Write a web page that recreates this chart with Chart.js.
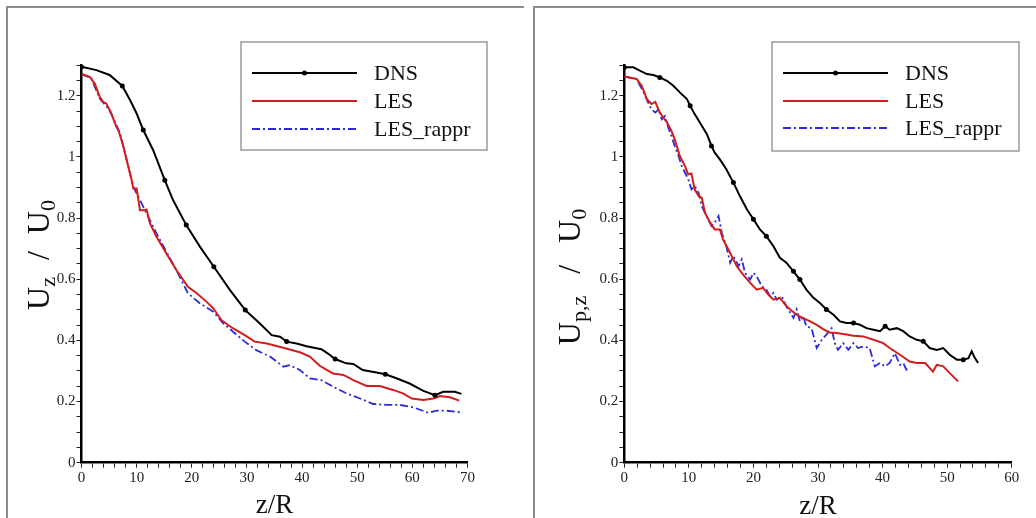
<!DOCTYPE html>
<html>
<head>
<meta charset="utf-8">
<script src="https://cdn.jsdelivr.net/npm/chart.js@4/dist/chart.umd.min.js"></script>
<style>
  body { margin: 0; background: #fff; width: 1036px; height: 518px; overflow: hidden; position: relative; }
  .frame { position: absolute; border-top: 2px solid #8c8c8c; border-left: 2px solid #8c8c8c; }
  canvas { position: absolute; top: 0; }
</style>
</head>
<body>
<div class="frame" style="left:6px;top:6px;width:516px;height:520px"></div>
<div class="frame" style="left:533px;top:6px;width:510px;height:520px"></div>
<canvas id="left" width="526" height="518" style="left:0"></canvas>
<canvas id="right" width="510" height="518" style="left:526px"></canvas>
<script>
// series labels
const seriesNames = ["DNS", "LES", "LES_rappr"];

// left panel: U_z / U_0 against z/R
const zDnsA = [0,2.7,5.1,7.4,8.8,10,11.2,13,15.1,16.6,19,21.5,24,26.9,29.7,32.3,34.5,36,37.2,39,40.8,43.5,44.7,46,48,49.3,51,53.5,55.1,57.1,59.5,62,64.1,65.6,67.7,68.9];
const uDnsA = [1.295,1.284,1.268,1.232,1.186,1.142,1.088,1.022,0.924,0.859,0.777,0.706,0.641,0.565,0.499,0.456,0.417,0.412,0.396,0.390,0.381,0.371,0.357,0.339,0.325,0.323,0.303,0.295,0.289,0.276,0.259,0.235,0.221,0.232,0.232,0.225];
const dnsMarksA = [0,7.4,11.2,15.1,19,24,29.7,37.2,46,55.1,64.1];

const zLesA = [0,1.5,2.4,3.3,3.9,4.5,5.4,6.3,6.8,7.6,8.5,9.1,9.4,10,10.6,11.1,11.8,12.4,13.6,15.4,17.2,19.3,20.9,22.7,23.9,25.4,27.5,29.6,31.4,33.6,36.6,39.6,41.4,43.2,45.6,47.5,49.3,51.7,54.1,56.5,58.3,59.9,62,63.8,65,66.8,68.5];
const uLesA = [1.271,1.262,1.240,1.197,1.180,1.175,1.142,1.099,1.082,1.033,0.968,0.924,0.897,0.897,0.826,0.826,0.828,0.783,0.739,0.684,0.630,0.575,0.554,0.526,0.505,0.466,0.439,0.417,0.396,0.390,0.376,0.361,0.347,0.317,0.292,0.287,0.270,0.251,0.251,0.238,0.227,0.210,0.205,0.210,0.218,0.214,0.203];

const zRapA = [0,1.8,3.3,5.1,7,8.2,9.4,10.9,11.8,13.6,15.4,17.2,19.3,21.5,23.9,25.7,27.5,29.6,31.7,34.2,36.6,37.8,39.6,41.4,43.5,45.6,48,50.5,52.9,55.3,57.7,60.2,62.9,64.4,66.2,68.6];
const uRapA = [1.271,1.257,1.191,1.153,1.077,0.990,0.902,0.848,0.815,0.750,0.690,0.630,0.554,0.521,0.494,0.456,0.428,0.396,0.368,0.347,0.314,0.319,0.303,0.276,0.270,0.249,0.227,0.210,0.192,0.189,0.189,0.181,0.163,0.170,0.170,0.165];

// right panel: U_p,z / U_0 against z/R
const zDnsB = [0,1.4,2.4,3.5,4.5,5.5,6.6,7.6,8.6,9.7,10.2,10.9,12,12.8,13.5,14,14.8,15.8,16.9,17.9,19,20,21,22,23.1,24.1,25.1,26.2,27.2,28.2,29.3,30.3,31.3,32.4,33.4,34.4,35.5,36.5,37.5,38.6,39.6,40.4,41.1,42.2,43.2,44.2,45.3,46.3,47.3,48.4,49.4,50.4,51.5,52.5,53.3,53.8,54.3,54.8];
const uDnsB = [1.293,1.293,1.282,1.271,1.268,1.260,1.249,1.233,1.211,1.189,1.167,1.140,1.102,1.074,1.036,1.014,0.992,0.960,0.916,0.872,0.828,0.796,0.763,0.741,0.708,0.670,0.654,0.626,0.599,0.566,0.539,0.522,0.501,0.484,0.462,0.457,0.457,0.451,0.440,0.435,0.430,0.446,0.435,0.440,0.430,0.413,0.402,0.397,0.375,0.369,0.375,0.353,0.337,0.337,0.342,0.364,0.342,0.326];
const dnsMarksB = [0,5.5,10.2,13.5,16.9,20,22,26.2,27.2,31.3,35.5,40.4,46.3,52.5];

const zLesB = [0,1.9,2.7,3.5,4.2,4.8,5.5,6.6,7.3,7.8,8.6,9.4,9.9,10.4,10.9,11.5,12,12.5,13.3,14,14.8,15.3,16.4,17.4,18.4,19.5,20.5,21.5,22.3,23.1,24.1,24.9,25.7,26.7,27.7,28.8,29.8,30.8,31.8,32.9,34.4,35.5,37,38.6,40.1,41.1,42.7,44.2,45.3,46.6,47.8,48.4,49.4,50.4,51.7];
const uLesB = [1.263,1.255,1.233,1.189,1.173,1.180,1.145,1.113,1.085,1.058,1.003,0.970,0.943,0.946,0.894,0.872,0.867,0.817,0.785,0.763,0.763,0.730,0.686,0.643,0.615,0.588,0.566,0.572,0.550,0.533,0.539,0.517,0.501,0.484,0.473,0.462,0.451,0.437,0.426,0.424,0.419,0.415,0.413,0.402,0.391,0.375,0.353,0.331,0.326,0.326,0.298,0.320,0.315,0.293,0.266];

const zRapB = [0,1.9,3,3.7,4.2,4.8,5.3,5.8,6.3,6.8,7.3,7.8,8.4,8.9,9.4,9.9,10.4,10.9,11.5,12,12.5,13,13.5,14,14.6,15.1,15.8,16.4,16.9,17.7,18.2,18.7,19.5,20,20.5,21.3,22,22.6,23.1,23.6,24.4,25.1,25.7,26.2,26.7,27.2,27.7,28.2,29,29.8,30.6,31.3,32.1,32.6,33.1,33.9,34.7,35.5,36.2,37,38,38.8,39.6,40.4,41.1,41.9,42.7,43.2,43.7,44.2];
const uRapB = [1.263,1.255,1.211,1.178,1.156,1.145,1.156,1.123,1.134,1.096,1.069,1.036,1.003,0.970,0.949,0.927,0.894,0.905,0.883,0.839,0.817,0.796,0.774,0.785,0.807,0.752,0.708,0.654,0.676,0.643,0.665,0.621,0.599,0.621,0.610,0.577,0.566,0.544,0.555,0.533,0.544,0.511,0.490,0.473,0.501,0.462,0.479,0.446,0.440,0.375,0.402,0.419,0.440,0.391,0.369,0.391,0.369,0.391,0.375,0.380,0.375,0.315,0.326,0.315,0.326,0.358,0.320,0.326,0.304,0.309];

// axis ranges
const yMax = 1.3;
const xMaxA = 70;
const xMaxB = 60;

const SERIF = "'Liberation Serif', 'DejaVu Serif', serif";

function pts(xs, ys) {
    return xs.map((x, i) => ({ x: x, y: ys[i] }));
}

//Writes a run of text pieces (with sub-scripts) along the current baseline
function drawRich(ctx, parts, cx, cy) {
    let total = 0;
    parts.forEach(p => {
        ctx.font = p.size + "px " + SERIF;
        p.w = ctx.measureText(p.t).width + (p.gap || 0);
        total += p.w;
    });
    let x = cx - total / 2;
    parts.forEach(p => {
        ctx.font = p.size + "px " + SERIF;
        ctx.fillText(p.t, x + (p.gap || 0) / 2, cy + (p.dy || 0));
        x += p.w;
    });
}

//Draws legend box, axis titles
const decoPlugin = {
    id: "deco",
    afterDraw(chart, args, opts) {
        const ctx = chart.ctx;
        const lg = opts.legend;
        ctx.save();
        ctx.strokeStyle = "#9a9a9a";
        ctx.lineWidth = 1.5;
        ctx.strokeRect(lg.x, lg.y, lg.w, lg.h);
        ctx.textBaseline = "middle";
        chart.data.datasets.forEach((ds, i) => {
            const y = lg.rows[i];
            ctx.beginPath();
            ctx.strokeStyle = ds.borderColor;
            ctx.lineWidth = ds.borderWidth;
            ctx.setLineDash(ds.borderDash || []);
            ctx.moveTo(lg.x0, y);
            ctx.lineTo(lg.x1, y);
            ctx.stroke();
            ctx.setLineDash([]);
            if (i === 0) {
                ctx.beginPath();
                ctx.fillStyle = ds.borderColor;
                ctx.arc((lg.x0 + lg.x1) / 2, y, 2.5, 0, Math.PI * 2);
                ctx.fill();
            }
            ctx.fillStyle = "#111";
            ctx.font = "22px " + SERIF;
            ctx.textAlign = "left";
            ctx.fillText(ds.label, lg.tx, y + 1);
        });

        // x title
        const area = chart.chartArea;
        ctx.textBaseline = "alphabetic";
        ctx.textAlign = "left";
        ctx.fillStyle = "#111";
        drawRich(ctx, [{ t: "z/R", size: 27 }], (area.left + area.right) / 2, opts.xTitleY);

        // y title, rotated
        ctx.translate(opts.yTitle.x, opts.yTitle.y);
        ctx.rotate(-Math.PI / 2);
        drawRich(ctx, opts.yTitle.parts, 0, 0);
        ctx.restore();
    }
};

function makeChart(id, d, cfg) {
    const ticksFont = { family: SERIF, size: 15 };
    new Chart(document.getElementById(id), {
        type: "line",
        data: {
            datasets: [
                {
                    label: seriesNames[0],
                    data: pts(d.zDns, d.uDns),
                    borderColor: "#000",
                    backgroundColor: "#000",
                    borderWidth: 2,
                    pointRadius: c => (c.raw && d.marks.includes(c.raw.x)) ? 2.5 : 0,
                    pointBorderWidth: 0,
                    order: 0,
                },
                {
                    label: seriesNames[1],
                    data: pts(d.zLes, d.uLes),
                    borderColor: "#d41c1c",
                    borderWidth: 2,
                    pointRadius: 0,
                    order: 1,
                },
                {
                    label: seriesNames[2],
                    data: pts(d.zRap, d.uRap),
                    borderColor: "#2b2bde",
                    borderWidth: 1.8,
                    borderDash: [8, 3, 2, 3],
                    pointRadius: 0,
                    order: 2,
                },
            ],
        },
        options: {
            responsive: false,
            animation: false,
            layout: { padding: { left: 0, right: cfg.padRight, top: 65.2, bottom: 0 } },
            plugins: {
                legend: { display: false },
                tooltip: { enabled: false },
                deco: cfg.deco,
            },
            scales: {
                x: {
                    type: "linear",
                    min: 0,
                    max: cfg.xMax,
                    afterFit: s => { s.height = 55.3; },
                    border: { color: "#000", width: 2.5 },
                    grid: { drawOnChartArea: false, tickLength: 5, tickColor: "#222", lineWidth: 1 },
                    ticks: {
                        stepSize: 2,
                        padding: 1,
                        color: "#222",
                        font: ticksFont,
                        maxRotation: 0,
                        autoSkip: false,
                        callback: v => (Math.round(v) % 10 === 0 ? String(Math.round(v)) : ""),
                    },
                },
                y: {
                    type: "linear",
                    min: 0,
                    max: yMax,
                    afterFit: s => { s.width = cfg.yWidth; },
                    border: { color: "#000", width: 2.5 },
                    grid: { drawOnChartArea: false, tickLength: 5, tickColor: "#222", lineWidth: 1 },
                    ticks: {
                        stepSize: 0.05,
                        padding: 1,
                        color: "#222",
                        font: ticksFont,
                        autoSkip: false,
                        callback: v => {
                            const k = Math.round(v * 100);
                            if (k % 20 !== 0) return "";
                            return String(k / 100);
                        },
                    },
                },
            },
        },
        plugins: [decoPlugin],
    });
}

makeChart("left",
    { zDns: zDnsA, uDns: uDnsA, marks: dnsMarksA, zLes: zLesA, uLes: uLesA, zRap: zRapA, uRap: uRapA },
    {
        xMax: xMaxA, yWidth: 81.5, padRight: 58.5,
        deco: {
            legend: { x: 241, y: 42, w: 246, h: 108, x0: 252, x1: 357, tx: 374, rows: [73, 101, 129] },
            xTitleY: 513,
            yTitle: {
                x: 49, y: 255,
                parts: [
                    { t: "U", size: 32 }, { t: "z", size: 22, dy: 6 },
                    { t: "/", size: 32, gap: 34 }, { t: "U", size: 32 }, { t: "0", size: 22, dy: 6 },
                ],
            },
        },
    });

makeChart("right",
    { zDns: zDnsB, uDns: uDnsB, marks: dnsMarksB, zLes: zLesB, uLes: uLesB, zRap: zRapB, uRap: uRapB },
    {
        xMax: xMaxB, yWidth: 98.3, padRight: 24.3,
        deco: {
            legend: { x: 246, y: 42, w: 247, h: 109, x0: 257, x1: 362, tx: 379, rows: [73, 101, 128] },
            xTitleY: 514,
            yTitle: {
                x: 54, y: 277,
                parts: [
                    { t: "U", size: 32 }, { t: "p,z", size: 22, dy: 6 },
                    { t: "/", size: 32, gap: 44 }, { t: "U", size: 32 }, { t: "0", size: 22, dy: 6 },
                ],
            },
        },
    });
</script>
</body>
</html>
